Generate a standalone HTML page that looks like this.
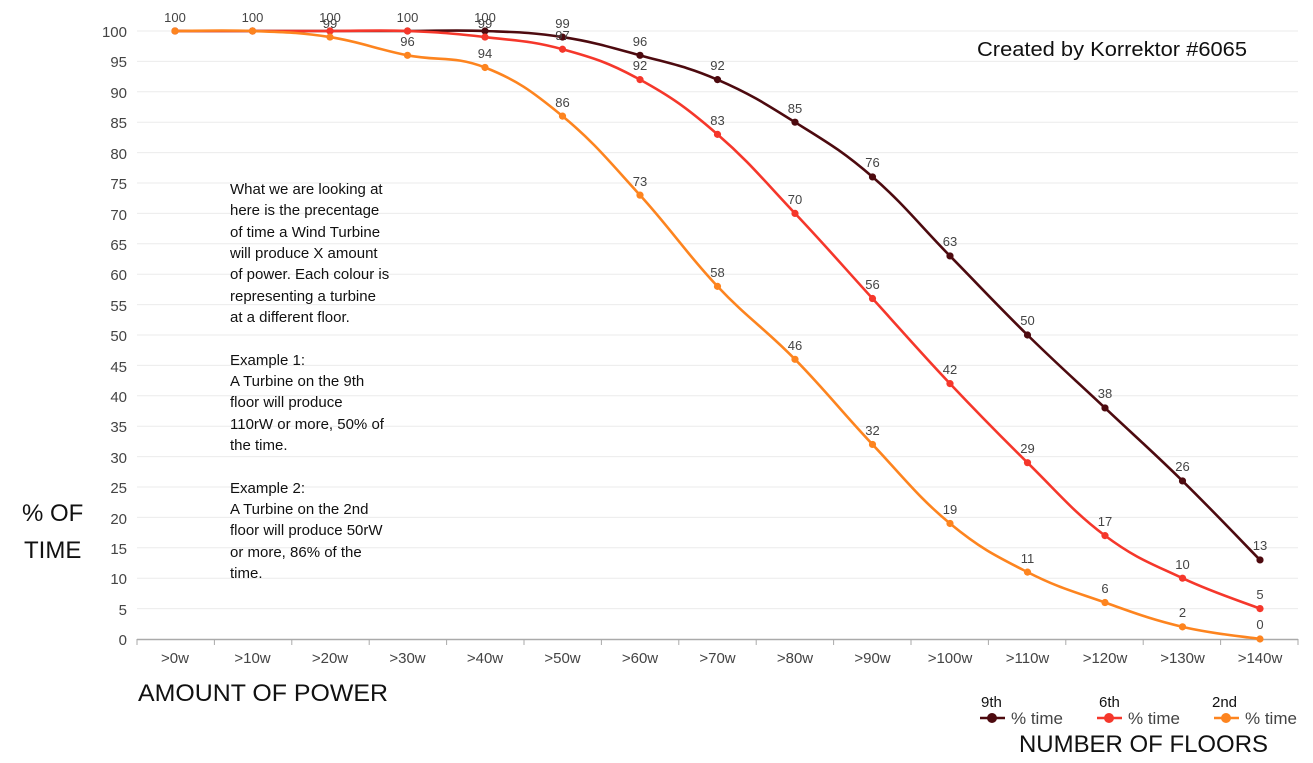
<!DOCTYPE html>
<html><head><meta charset="utf-8"><style>
html,body{margin:0;padding:0;background:#fff;}
svg{display:block;font-family:"Liberation Sans",sans-serif;}
.yl{font-size:15px;fill:#444;text-anchor:end;}
.xl{font-size:15px;fill:#444;text-anchor:middle;}
.dl{font-size:13px;fill:#444;text-anchor:middle;}
.note{font-size:15px;fill:#111;}
</style></head><body>
<svg id="s" width="1313" height="763" viewBox="0 0 1313 763">
<g id="grid" stroke="#ebebeb" stroke-width="1"></g>
<line x1="137" y1="639.5" x2="1298" y2="639.5" stroke="#aaa" stroke-width="1.5"/>
<g id="ticks" stroke="#aaa" stroke-width="1"></g>
<g class="yl">
<text x="127" y="37">100</text><text x="127" y="67">95</text><text x="127" y="98">90</text><text x="127" y="128">85</text><text x="127" y="159">80</text><text x="127" y="189">75</text><text x="127" y="220">70</text><text x="127" y="250">65</text><text x="127" y="280">60</text><text x="127" y="311">55</text><text x="127" y="341">50</text><text x="127" y="372">45</text><text x="127" y="402">40</text><text x="127" y="432">35</text><text x="127" y="463">30</text><text x="127" y="493">25</text><text x="127" y="524">20</text><text x="127" y="554">15</text><text x="127" y="584">10</text><text x="127" y="615">5</text><text x="127" y="645">0</text>
</g>
<g class="xl">
<text x="175" y="663">&gt;0w</text><text x="252.5" y="663">&gt;10w</text><text x="330" y="663">&gt;20w</text><text x="407.5" y="663">&gt;30w</text><text x="485" y="663">&gt;40w</text><text x="562.5" y="663">&gt;50w</text><text x="640" y="663">&gt;60w</text><text x="717.5" y="663">&gt;70w</text><text x="795" y="663">&gt;80w</text><text x="872.5" y="663">&gt;90w</text><text x="950" y="663">&gt;100w</text><text x="1027.5" y="663">&gt;110w</text><text x="1105" y="663">&gt;120w</text><text x="1182.5" y="663">&gt;130w</text><text x="1260" y="663">&gt;140w</text>
</g>
<g id="series"></g>
<g class="dl">
<text x="175" y="22">100</text><text x="252.5" y="22">100</text><text x="330" y="22">100</text><text x="407.5" y="22">100</text><text x="485" y="22">100</text><text x="562.5" y="28">99</text><text x="640" y="46">96</text><text x="717.5" y="70">92</text><text x="795" y="113">85</text><text x="872.5" y="167">76</text><text x="950" y="246">63</text><text x="1027.5" y="325">50</text><text x="1105" y="398">38</text><text x="1182.5" y="471">26</text><text x="1260" y="550">13</text>
<text x="485" y="28">99</text><text x="562.5" y="40">97</text><text x="640" y="70">92</text><text x="717.5" y="125">83</text><text x="795" y="204">70</text><text x="872.5" y="289">56</text><text x="950" y="374">42</text><text x="1027.5" y="453">29</text><text x="1105" y="526">17</text><text x="1182.5" y="569">10</text><text x="1260" y="599">5</text>
<text x="330" y="28">99</text><text x="407.5" y="46">96</text><text x="485" y="58">94</text><text x="562.5" y="107">86</text><text x="640" y="186">73</text><text x="717.5" y="277">58</text><text x="795" y="350">46</text><text x="872.5" y="435">32</text><text x="950" y="514">19</text><text x="1027.5" y="563">11</text><text x="1105" y="593">6</text><text x="1182.5" y="617">2</text><text x="1260" y="629">0</text>
</g>
<g class="note">
<text x="230" y="194">What we are looking at</text>
<text x="230" y="215">here is the precentage</text>
<text x="230" y="237">of time a Wind Turbine</text>
<text x="230" y="258">will produce X amount</text>
<text x="230" y="279">of power. Each colour is</text>
<text x="230" y="301">representing a turbine</text>
<text x="230" y="322">at a different floor.</text>
<text x="230" y="365">Example 1:</text>
<text x="230" y="386">A Turbine on the 9th</text>
<text x="230" y="407">floor will produce</text>
<text x="230" y="429">110rW or more, 50% of</text>
<text x="230" y="450">the time.</text>
<text x="230" y="493">Example 2:</text>
<text x="230" y="514">A Turbine on the 2nd</text>
<text x="230" y="535">floor will produce 50rW</text>
<text x="230" y="557">or more, 86% of the</text>
<text x="230" y="578">time.</text>
</g>
<text x="977" y="56" font-size="20.5" fill="#111" textLength="270" lengthAdjust="spacingAndGlyphs">Created by Korrektor #6065</text>
<text x="22" y="521" font-size="24" fill="#111">% OF</text>
<text x="24" y="558" font-size="24" fill="#111">TIME</text>
<text x="138" y="701" font-size="24" fill="#111" textLength="250" lengthAdjust="spacingAndGlyphs">AMOUNT OF POWER</text>
<text x="1019" y="752" font-size="24" fill="#111" textLength="249" lengthAdjust="spacingAndGlyphs">NUMBER OF FLOORS</text>
<g font-size="15" fill="#111">
<text x="981" y="707">9th</text><text x="1099" y="707">6th</text><text x="1212" y="707">2nd</text>
</g>
<g font-size="17" fill="#444">
<text x="1011" y="724">% time</text><text x="1128" y="724">% time</text><text x="1245" y="724">% time</text>
</g>
<g stroke-width="2.5">
<line x1="980" y1="718" x2="1005" y2="718" stroke="#4d0a0f"/><circle cx="992" cy="718" r="5" fill="#4d0a0f"/>
<line x1="1097" y1="718" x2="1122" y2="718" stroke="#f5372b"/><circle cx="1109" cy="718" r="5" fill="#f5372b"/>
<line x1="1214" y1="718" x2="1239" y2="718" stroke="#fd841f"/><circle cx="1226" cy="718" r="5" fill="#fd841f"/>
</g>
</svg>
<script>
(function(){
var NS="http://www.w3.org/2000/svg";
function el(n,a,p){var e=document.createElementNS(NS,n);for(var k in a)e.setAttribute(k,a[k]);p.appendChild(e);return e;}
var g=document.getElementById('grid');
for(var v=5;v<=100;v+=5){var y=639-6.08*v;el('line',{x1:137,x2:1298,y1:y,y2:y},g);}
var t=document.getElementById('ticks');
for(var i=0;i<=15;i++){var x=137+77.4*i;el('line',{x1:x,x2:x,y1:639,y2:645},t);}
var S=[["#4d0a0f",[100,100,100,100,100,99,96,92,85,76,63,50,38,26,13]],
["#f5372b",[100,100,100,100,99,97,92,83,70,56,42,29,17,10,5]],
["#fd841f",[100,100,99,96,94,86,73,58,46,32,19,11,6,2,0]]];
var sg=document.getElementById('series');
S.forEach(function(s){
 var P=s[1].map(function(v,i){return [175+77.5*i,639-6.08*v];});
 var d="M"+P[0][0]+","+P[0][1];
 for(var i=0;i<P.length-1;i++){
  var p0=P[Math.max(0,i-1)],p1=P[i],p2=P[i+1],p3=P[Math.min(P.length-1,i+2)];
  var k=0.2;
  var c1=[p1[0]+(p2[0]-p0[0])*k,p1[1]+(p2[1]-p0[1])*k];
  var c2=[p2[0]-(p3[0]-p1[0])*k,p2[1]-(p3[1]-p1[1])*k];
  d+=" C"+c1[0]+","+c1[1]+" "+c2[0]+","+c2[1]+" "+p2[0]+","+p2[1];
 }
 el('path',{d:d,fill:"none",stroke:s[0],"stroke-width":2.6},sg);
 P.forEach(function(p){el('circle',{cx:p[0],cy:p[1],r:3.6,fill:s[0]},sg);});
});
})();
</script>
</body></html>
